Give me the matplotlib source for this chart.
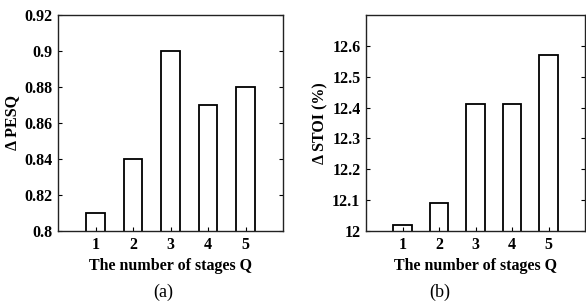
import matplotlib
matplotlib.use("Agg")
from matplotlib import pyplot as plt

plt.rcParams['font.family'] = ['Liberation Serif', 'DejaVu Serif']
plt.rcParams['font.weight'] = 'bold'
plt.rcParams['font.size'] = 11.5

stages = [1, 2, 3, 4, 5]
pesq = [0.81, 0.84, 0.90, 0.87, 0.88]
stoi = [12.02, 12.09, 12.41, 12.41, 12.57]

fig = plt.figure(figsize=(5.86, 3.04), dpi=100)
ax1 = fig.add_axes([58/586, 1-231/304, 225/586, 216/304])
ax2 = fig.add_axes([366/586, 1-231/304, 219/586, 216/304])

def style(ax):
    ax.set_xlim(0, 6)
    ax.set_xticks(stages)
    ax.tick_params(direction='in', length=3, width=0.8, top=False, right=True, pad=4)
    for s in ax.spines.values():
        s.set_linewidth(1.0)
        s.set_color('#222222')
    ax.set_xlabel("The number of stages Q", fontweight='bold', labelpad=4)

ax1.bar(stages, pesq, width=0.5, facecolor='white', edgecolor='black', linewidth=1.3)
ax1.set_ylim(0.8, 0.92)
ax1.set_yticks([0.8, 0.82, 0.84, 0.86, 0.88, 0.9, 0.92])
ax1.set_yticklabels(['0.8', '0.82', '0.84', '0.86', '0.88', '0.9', '0.92'])
ax1.set_ylabel("Δ PESQ", fontweight='bold', labelpad=3)
style(ax1)

ax2.bar(stages, stoi, width=0.5, facecolor='white', edgecolor='black', linewidth=1.3)
ax2.set_ylim(12, 12.7)
ax2.set_yticks([12, 12.1, 12.2, 12.3, 12.4, 12.5, 12.6])
ax2.set_yticklabels(['12', '12.1', '12.2', '12.3', '12.4', '12.5', '12.6'])
ax2.set_ylabel("Δ STOI (%)", fontweight='bold', labelpad=3)
style(ax2)

fig.text(163/586, 1-292/304, "(a)", ha='center', va='center', fontsize=13, fontweight='normal')
fig.text(440/586, 1-292/304, "(b)", ha='center', va='center', fontsize=13, fontweight='normal')

fig.savefig("out.png", dpi=100)
